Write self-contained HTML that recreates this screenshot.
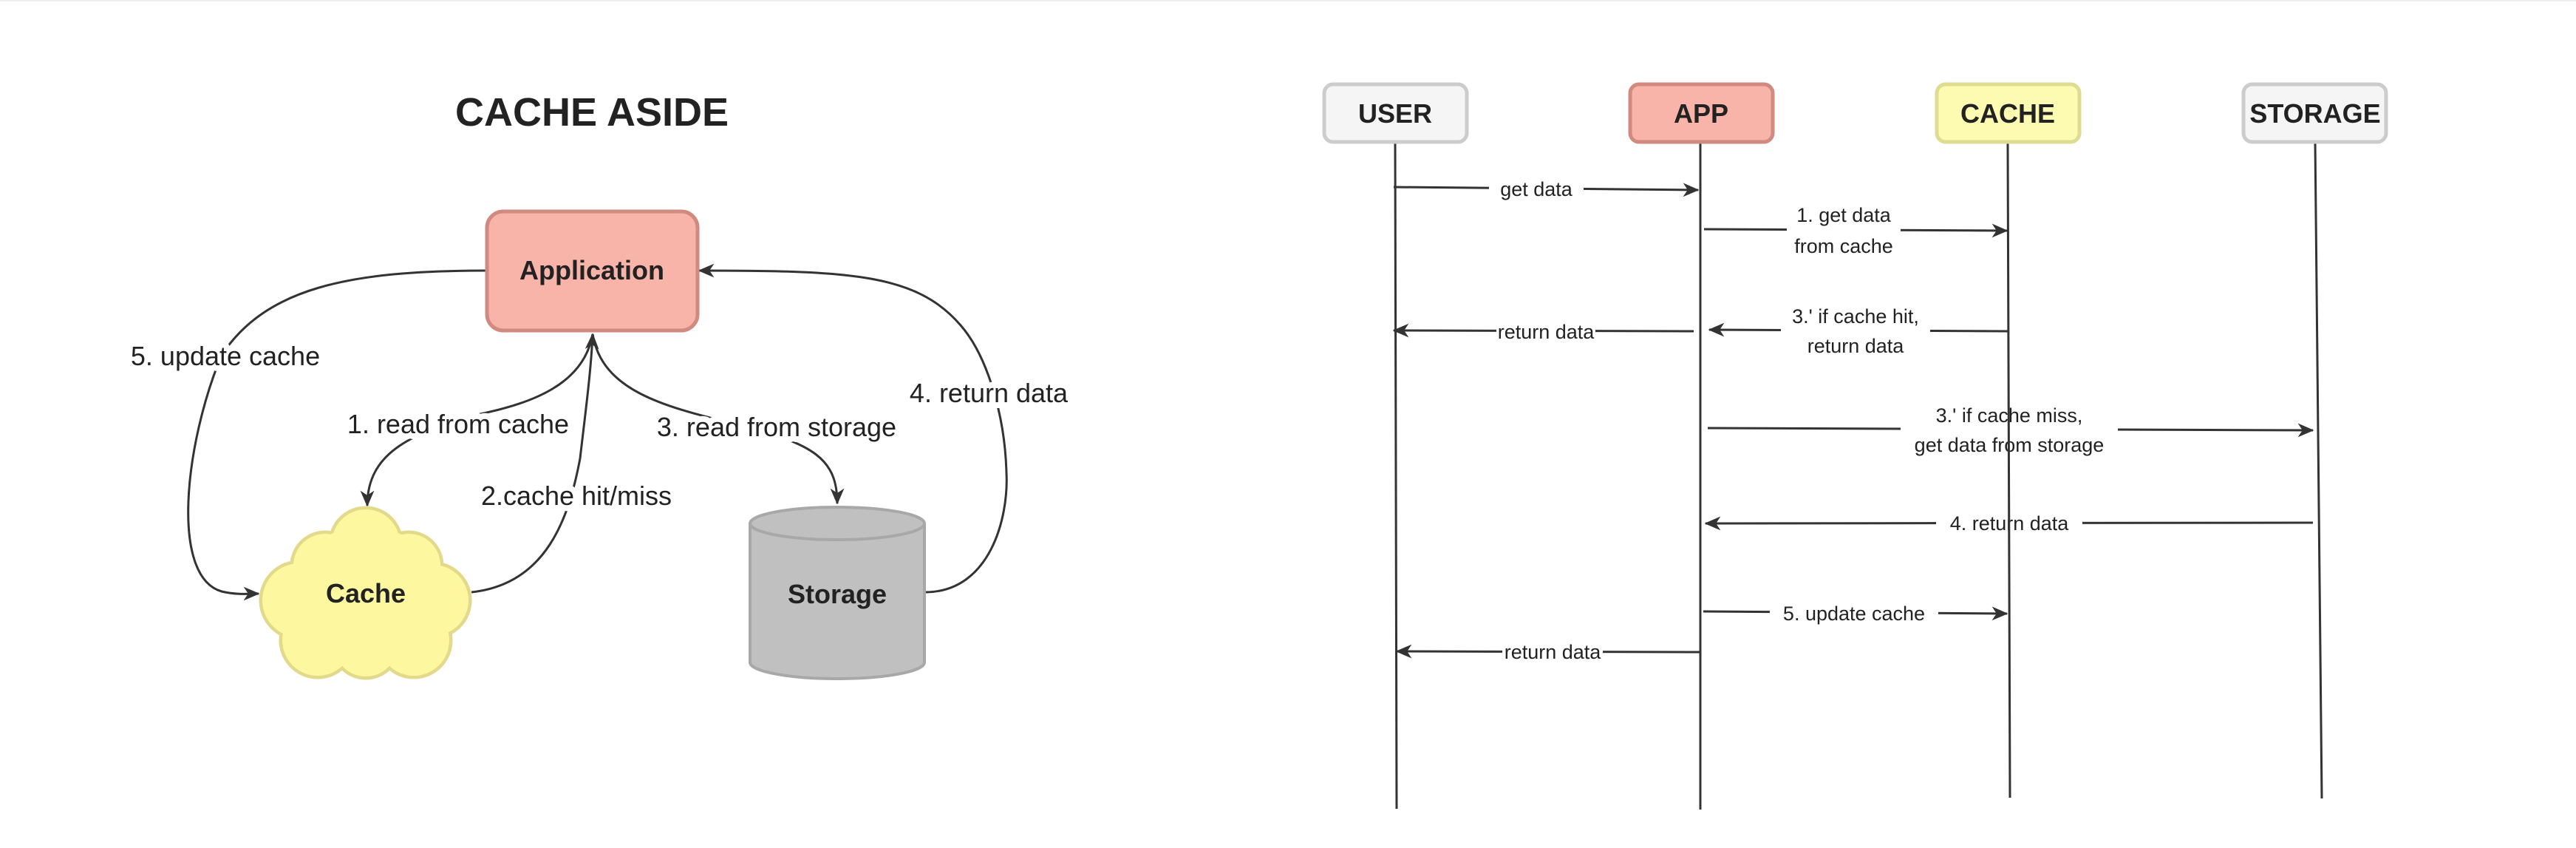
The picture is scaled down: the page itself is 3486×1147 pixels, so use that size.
<!DOCTYPE html>
<html><head><meta charset="utf-8"><style>
html,body{margin:0;padding:0;background:#fff;}
svg{display:block;}
text{font-family:"Liberation Sans",sans-serif;fill:#222;}
.lbl{font-size:36px;paint-order:stroke;stroke:#fff;stroke-width:16px;stroke-linejoin:round;}
.sl{font-size:27px;}
.b{font-weight:bold;}
</style></head><body>
<svg width="3486" height="1147" viewBox="0 0 3486 1147" xmlns="http://www.w3.org/2000/svg">
<defs>
<marker id="ah2" viewBox="0 0 14 12" refX="13" refY="6" markerWidth="22" markerHeight="20" markerUnits="userSpaceOnUse" orient="auto">
<path d="M0,0 L14,6 L0,12 L4,6 z" fill="#333"/>
</marker>
</defs>
<line x1="0" y1="1" x2="3486" y2="1" stroke="#eee" stroke-width="2"/>

<!-- LEFT -->
<text x="801" y="170" font-size="54" class="b" text-anchor="middle">CACHE ASIDE</text>

<g fill="none" stroke="#333" stroke-width="3">
<path d="M658,366 C470,366 360,390 300,480 C250,600 230,780 300,800 C320,805 340,803 350,803" marker-end="url(#ah2)"/>
<path d="M802,452 C790,520 720,545 650,560 C560,585 497,610 497,684" marker-end="url(#ah2)"/>
<path d="M638,801 C740,790 770,700 785,620 C792,560 800,500 802,452" marker-end="url(#ah2)"/>
<path d="M802,452 C815,530 900,550 1000,575 C1100,600 1133,620 1133,681" marker-end="url(#ah2)"/>
<path d="M1253,801 C1340,800 1365,700 1362,640 C1360,560 1335,480 1300,440 C1240,370 1150,366 946,366" marker-end="url(#ah2)"/>
</g>

<text x="305" y="494" class="lbl" text-anchor="middle">5. update cache</text>
<text x="620" y="586" class="lbl" text-anchor="middle">1. read from cache</text>
<text x="780" y="683" class="lbl" text-anchor="middle">2.cache hit/miss</text>
<text x="1051" y="590" class="lbl" text-anchor="middle">3. read from storage</text>
<text x="1338" y="544" class="lbl" text-anchor="middle">4. return data</text>

<rect x="659" y="286" width="285" height="161" rx="22" fill="#f8b4a8" stroke="#d08a80" stroke-width="5"/>
<text x="801" y="378" font-size="36" class="b" text-anchor="middle">Application</text>

<g stroke="#e2d98a" stroke-width="5" fill="#fdf8a0">
<circle cx="495" cy="735" r="48"/><circle cx="440" cy="765" r="45"/><circle cx="553" cy="765" r="45"/>
<circle cx="405" cy="812" r="52"/><circle cx="586" cy="812" r="50"/><circle cx="430" cy="866" r="50"/>
<circle cx="560" cy="866" r="50"/><circle cx="495" cy="872" r="45"/>
</g>
<g fill="#fdf8a0">
<circle cx="495" cy="735" r="46"/><circle cx="440" cy="765" r="43"/><circle cx="553" cy="765" r="43"/>
<circle cx="405" cy="812" r="50"/><circle cx="586" cy="812" r="48"/><circle cx="430" cy="866" r="48"/>
<circle cx="560" cy="866" r="48"/><circle cx="495" cy="872" r="43"/><circle cx="495" cy="805" r="95"/>
</g>
<text x="495" y="815" font-size="36" class="b" text-anchor="middle">Cache</text>

<path d="M1015,708 L1015,896 A118,22 0 0 0 1251,896 L1251,708" fill="#c0c0c0" stroke="#a8a8a8" stroke-width="4"/>
<ellipse cx="1133" cy="708" rx="118" ry="22" fill="#c0c0c0" stroke="#a8a8a8" stroke-width="4"/>
<text x="1133" y="816" font-size="36" class="b" text-anchor="middle">Storage</text>

<!-- RIGHT: messages -->
<g stroke="#333" stroke-width="3" fill="none">
<line x1="1886" y1="253" x2="2298" y2="257" marker-end="url(#ah2)"/>
<line x1="2306" y1="310" x2="2716" y2="312" marker-end="url(#ah2)"/>
<line x1="2717" y1="448" x2="2313" y2="446" marker-end="url(#ah2)"/>
<line x1="2292" y1="448" x2="1886" y2="447" marker-end="url(#ah2)"/>
<line x1="2311" y1="579" x2="3130" y2="582" marker-end="url(#ah2)"/>
<line x1="3130" y1="707" x2="2308" y2="708" marker-end="url(#ah2)"/>
<line x1="2305" y1="827" x2="2716" y2="830" marker-end="url(#ah2)"/>
<line x1="2301" y1="882" x2="1890" y2="881" marker-end="url(#ah2)"/>
</g>
<!-- label gaps -->
<g fill="#fff">
<rect x="2015" y="240" width="128" height="30"/>
<rect x="2418" y="285" width="154" height="60"/>
<rect x="2410" y="420" width="202" height="62"/>
<rect x="2025" y="434" width="134" height="30"/>
<rect x="2572" y="550" width="294" height="62"/>
<rect x="2620" y="692" width="198" height="30"/>
<rect x="2395" y="814" width="228" height="30"/>
<rect x="2033" y="867" width="136" height="30"/>
</g>
<text x="2079" y="265" class="sl" text-anchor="middle">get data</text>
<text x="2495" y="300" class="sl" text-anchor="middle">1. get data</text>
<text x="2495" y="342" class="sl" text-anchor="middle">from cache</text>
<text x="2511" y="437" class="sl" text-anchor="middle">3.' if cache hit,</text>
<text x="2511" y="477" class="sl" text-anchor="middle">return data</text>
<text x="2092" y="458" class="sl" text-anchor="middle">return data</text>
<text x="2719" y="571" class="sl" text-anchor="middle">3.' if cache miss,</text>
<text x="2719" y="611" class="sl" text-anchor="middle">get data from storage</text>
<text x="2719" y="717" class="sl" text-anchor="middle">4. return data</text>
<text x="2509" y="839" class="sl" text-anchor="middle">5. update cache</text>
<text x="2101" y="891" class="sl" text-anchor="middle">return data</text>

<g stroke="#333" stroke-width="3">
<line x1="1888" y1="192" x2="1890" y2="1094"/>
<line x1="2301" y1="192" x2="2301" y2="1095"/>
<line x1="2717" y1="192" x2="2720" y2="1079"/>
<line x1="3133" y1="192" x2="3142" y2="1080"/>
</g>
<rect x="1792" y="114" width="193" height="78" rx="12" fill="#f5f5f5" stroke="#cccccc" stroke-width="5"/>
<rect x="2206" y="114" width="193" height="78" rx="12" fill="#f8b4a8" stroke="#d08a80" stroke-width="5"/>
<rect x="2621" y="114" width="193" height="78" rx="12" fill="#fdfab2" stroke="#dedc90" stroke-width="5"/>
<rect x="3036" y="114" width="193" height="78" rx="12" fill="#f5f5f5" stroke="#cccccc" stroke-width="5"/>
<text x="1888" y="166" font-size="36" class="b" text-anchor="middle">USER</text>
<text x="2302" y="166" font-size="36" class="b" text-anchor="middle">APP</text>
<text x="2717" y="166" font-size="36" class="b" text-anchor="middle">CACHE</text>
<text x="3133" y="166" font-size="36" class="b" text-anchor="middle">STORAGE</text>
</svg>
</body></html>
